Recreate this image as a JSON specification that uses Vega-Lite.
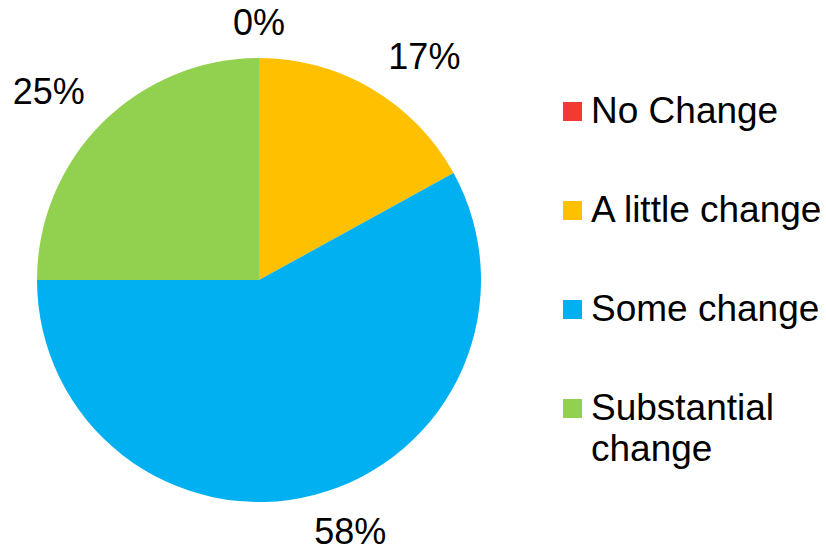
{
  "$schema": "https://vega.github.io/schema/vega-lite/v6.json",
  "autosize": "none",
  "width": 518,
  "height": 534,
  "padding": {"left": 0, "top": 13, "right": 308, "bottom": 0},
  "background": "white",
  "config": {"view": {"stroke": null}, "font": "Liberation Sans"},
  "data": {
    "values": [
      {"category": "No Change", "value": 0, "rank": 1, "label": "0%"},
      {"category": "A little change", "value": 17, "rank": 2, "label": "17%"},
      {"category": "Some change", "value": 58, "rank": 3, "label": "58%"},
      {"category": "Substantial change", "value": 25, "rank": 4, "label": "25%"}
    ]
  },
  "encoding": {
    "theta": {"field": "value", "type": "quantitative", "stack": true},
    "order": {"field": "rank", "type": "quantitative"}
  },
  "layer": [
    {
      "mark": {"type": "arc", "radius": 222},
      "encoding": {
        "color": {
          "field": "category",
          "type": "nominal",
          "scale": {
            "domain": ["No Change", "A little change", "Some change", "Substantial change"],
            "range": ["#F03A32", "#FFC000", "#00B0F0", "#92D050"]
          },
          "legend": {
            "title": null,
            "orient": "none",
            "legendX": 554,
            "legendY": 80,
            "padding": 0,
            "symbolType": "square",
            "symbolSize": 361,
            "symbolStrokeWidth": 0,
            "labelFontSize": 37,
            "labelFont": "Liberation Sans",
            "labelColor": "black",
            "labelOffset": 0,
            "labelLimit": 400,
            "rowPadding": 61,
            "labelExpr": "datum.label == 'Substantial change' ? ['Substantial', 'change'] : datum.label",
            "encode": {
              "labels": {"update": {"lineHeight": {"value": 41}}}
            }
          }
        }
      }
    },
    {
      "mark": {"type": "text", "radius": 262, "dy": 6, "fontSize": 36, "font": "Liberation Sans", "color": "black"},
      "encoding": {"text": {"condition": {"test": "datum.rank == 1", "field": "label"}, "value": ""}}
    },
    {
      "mark": {"type": "text", "radius": 262, "dx": 32, "dy": 4, "fontSize": 36, "font": "Liberation Sans", "color": "black"},
      "encoding": {"text": {"condition": {"test": "datum.rank == 2", "field": "label"}, "value": ""}}
    },
    {
      "mark": {"type": "text", "radius": 262, "dx": 26, "dy": -1, "fontSize": 36, "font": "Liberation Sans", "color": "black"},
      "encoding": {"text": {"condition": {"test": "datum.rank == 3", "field": "label"}, "value": ""}}
    },
    {
      "mark": {"type": "text", "radius": 262, "dx": -25, "dy": -2, "fontSize": 36, "font": "Liberation Sans", "color": "black"},
      "encoding": {"text": {"condition": {"test": "datum.rank == 4", "field": "label"}, "value": ""}}
    }
  ]
}
